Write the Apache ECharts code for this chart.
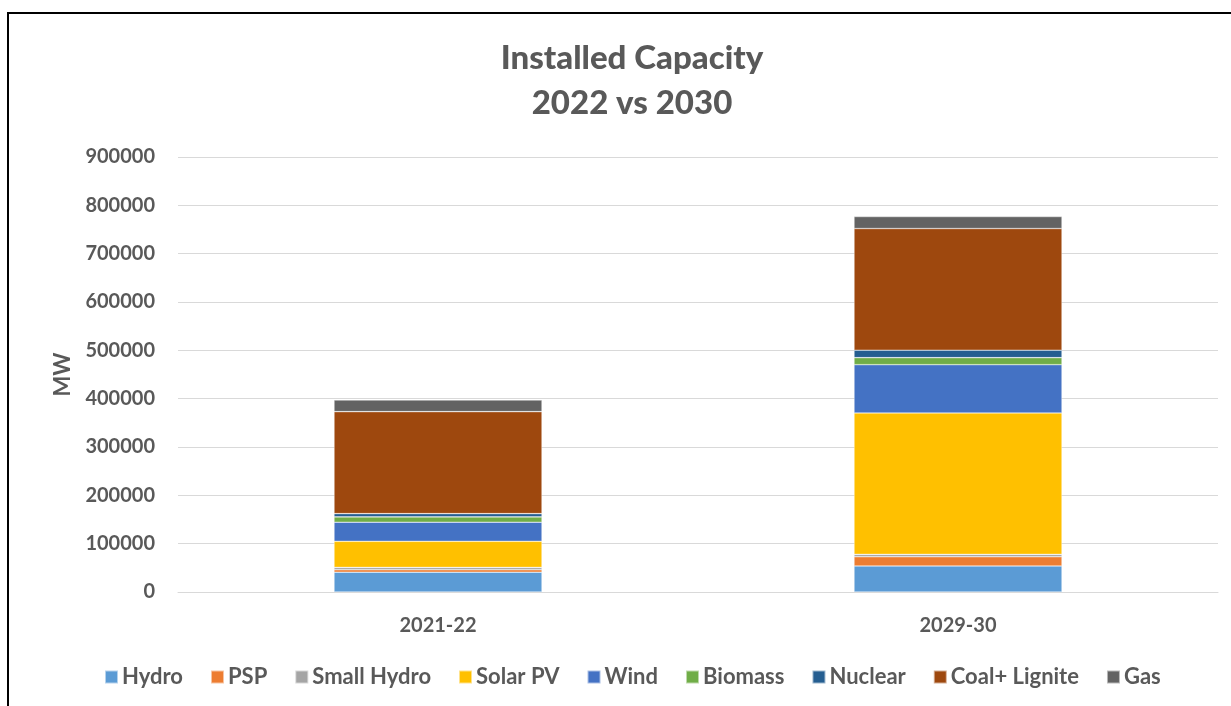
<!DOCTYPE html>
<html>
<head>
<meta charset="utf-8">
<script src="https://cdn.jsdelivr.net/npm/echarts@6/dist/echarts.min.js"></script>
<style>html,body{margin:0;padding:0;background:#fff}#c{width:1231px;height:706px}</style>
</head>
<body>
<div id="c"></div>
<script>
const categories = ['2021-22', '2029-30'];
const seriesNames = ['Hydro', 'PSP', 'Small Hydro', 'Solar PV', 'Wind', 'Biomass', 'Nuclear', 'Coal+ Lignite', 'Gas'];
const hydro = [41000, 53860];
const psp = [5000, 18990];
const smallHydro = [4850, 5000];
const solarPV = [54000, 292570];
const wind = [39500, 99900];
const biomass = [11000, 14500];
const nuclear = [6780, 15480];
const coalLignite = [211000, 251680];
const gas = [24000, 24820];
const yTicks = [0, 100000, 200000, 300000, 400000, 500000, 600000, 700000, 800000, 900000];

const colors = ['#5B9BD5', '#ED7D31', '#A5A5A5', '#FFC000', '#4472C4', '#70AD47', '#255E91', '#9E480E', '#636363'];
const values = [hydro, psp, smallHydro, solarPV, wind, biomass, nuclear, coalLignite, gas];
const FONT = 'Lato';
const GREY = '#595959';

const chart = echarts.init(document.getElementById('c'), null, {renderer: 'canvas'});
chart.setOption({
  animation: false,
  backgroundColor: '#fff',
  title: {
    text: 'Installed Capacity\n2022 vs 2030',
    left: 627,
    textAlign: 'center',
    top: 31,
    textStyle: {fontFamily: FONT, fontWeight: 900, fontSize: 33, color: GREY, lineHeight: 45}
  },
  graphic: [{
    type: 'rect', silent: true, z: 100,
    shape: {x: 8, y: 13, width: 1260, height: 740},
    style: {fill: 'none', stroke: '#000', lineWidth: 2}
  }],
  legend: {
    data: seriesNames,
    bottom: 13,
    left: 99,
    itemWidth: 13,
    itemHeight: 13,
    itemGap: 27,
    icon: 'rect',
    textStyle: {fontFamily: FONT, fontWeight: 'bold', fontSize: 22, color: GREY, padding: [0, 0, 0, -1]}
  },
  grid: {left: 178, right: 13, top: 157, bottom: 114, containLabel: false},
  xAxis: {
    type: 'category',
    data: categories,
    axisLine: {lineStyle: {color: '#d9d9d9', width: 1}},
    axisTick: {show: false},
    axisLabel: {fontFamily: FONT, fontWeight: 'bold', fontSize: 20, color: GREY, margin: 24}
  },
  yAxis: {
    type: 'value',
    min: yTicks[0],
    max: yTicks[yTicks.length - 1],
    interval: yTicks[1] - yTicks[0],
    name: 'MW',
    nameLocation: 'middle',
    nameGap: 104,
    nameRotate: 90,
    nameTextStyle: {fontFamily: FONT, fontWeight: 'bold', fontSize: 22, color: GREY},
    axisLine: {show: false},
    axisTick: {show: false},
    splitLine: {lineStyle: {color: '#d9d9d9', width: 1}},
    axisLabel: {fontFamily: FONT, fontWeight: 'bold', fontSize: 20, color: GREY, margin: 23, formatter: v => String(v)}
  },
  series: seriesNames.map((n, i) => ({
    name: n,
    type: 'bar',
    stack: 'total',
    barWidth: '40%',
    data: values[i],
    itemStyle: {color: colors[i], borderColor: 'rgba(255,255,255,0.55)', borderWidth: 0.6}
  }))
});
</script>
</body>
</html>
